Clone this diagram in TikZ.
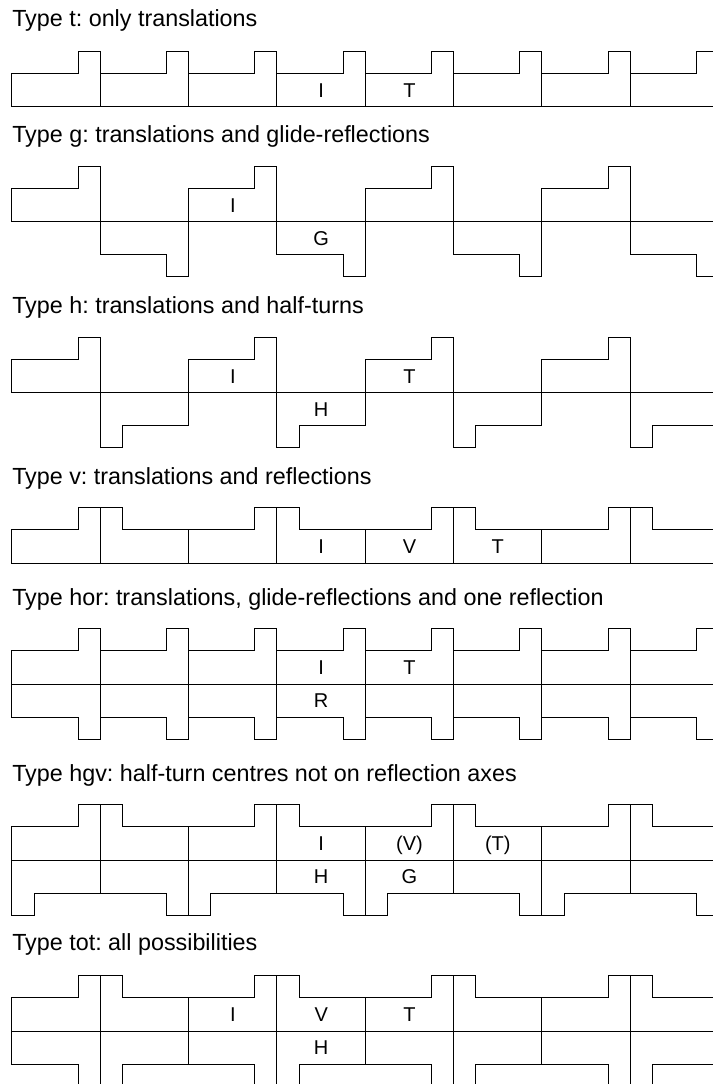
\documentclass[tikz,border=0pt]{standalone}
\usepackage{fontspec}
\setmainfont{Liberation Sans}
\usetikzlibrary{positioning}
\frenchspacing

\begin{document}
\begin{tikzpicture}[
  x=0.75pt, y=-0.75pt,
  edge/.style={line width=0.75pt, line join=miter, draw=black},
  heading/.style={anchor=base west, inner sep=0pt, font=\fontsize{17.5}{20}\selectfont},
  glyph/.style={anchor=base, inner sep=0pt, font=\fontsize{15}{18}\selectfont},
  motif/.pic={\draw[edge] (-44.17,0) -- (-44.17,-33.1) -- (22.09,-33.1) -- (22.09,-55.2)
                -- (44.17,-55.2) -- (44.17,0) -- cycle;},
]
\useasboundingbox (0,0) rectangle (713,1084);

% Headings
\node[heading] (h-t)   at (12,26.5) {Type t: only translations};
\node[heading] (h-g)   at (12,142.5) {Type g: translations and glide-reflections};
\node[heading] (h-h)   at (12,313) {Type h: translations and half-turns};
\node[heading] (h-v)   at (12,484) {Type v: translations and reflections};
\node[heading] (h-hor) at (12,605) {Type hor: translations, glide-reflections and one reflection};
\node[heading] (h-hgv) at (12,781) {Type hgv: half-turn centres not on reflection axes};
\node[heading] (h-tot) at (12,950) {Type tot: all possibilities};

% Friezes
\begin{scope}
  \clip (0,0) rectangle (713,1084);
  \foreach \k in {0,...,7} {
    \pgfmathsetmacro\cx{12+88.33*(\k+0.5)}
    \pgfmathsetmacro\sg{1-2*mod(\k,2)}
    \pgfmathsetmacro\ng{-\sg}
    % t
    \pic at (\cx,106.7) {motif};
    % g
    \pic[yscale=\sg] at (\cx,221.7) {motif};
    % h
    \pic[xscale=\sg, yscale=\sg] at (\cx,392.3) {motif};
    % v
    \pic[xscale=\sg] at (\cx,563) {motif};
    % hor
    \pic at (\cx,684) {motif};
    \pic[yscale=-1] at (\cx,684) {motif};
    % hgv
    \pic[xscale=\sg] at (\cx,860) {motif};
    \pic[xscale=\ng, yscale=-1] at (\cx,860) {motif};
    % tot
    \pic[xscale=\sg] at (\cx,1031) {motif};
    \pic[xscale=\sg, yscale=-1] at (\cx,1031) {motif};
  }
\end{scope}

% Symbols
\node[glyph] (t-I) at (321.2,97.4) {I};
\node[glyph] (t-T) at (409.5,97.4) {T};

\node[glyph] (g-I) at (232.8,212.4) {I};
\node[glyph] (g-G) at (321.2,245.5) {G};

\node[glyph] (h-I) at (232.8,383) {I};
\node[glyph] (h-H) at (321.2,416.1) {H};
\node[glyph] (h-T) at (409.5,383) {T};

\node[glyph] (v-I) at (321.2,553.7) {I};
\node[glyph] (v-V) at (409.5,553.7) {V};
\node[glyph] (v-T) at (497.8,553.7) {T};

\node[glyph] (hor-I) at (321.2,674.7) {I};
\node[glyph] (hor-R) at (321.2,707.8) {R};
\node[glyph] (hor-T) at (409.5,674.7) {T};

\node[glyph] (hgv-I) at (321.2,850.7) {I};
\node[glyph] (hgv-H) at (321.2,883.8) {H};
\node[glyph] (hgv-V) at (409.5,850.7) {(V)};
\node[glyph] (hgv-G) at (409.5,883.8) {G};
\node[glyph] (hgv-T) at (497.8,850.7) {(T)};

\node[glyph] (tot-I) at (232.8,1021.7) {I};
\node[glyph] (tot-V) at (321.2,1021.7) {V};
\node[glyph] (tot-H) at (321.2,1054.8) {H};
\node[glyph] (tot-T) at (409.5,1021.7) {T};

\end{tikzpicture}
\end{document}
